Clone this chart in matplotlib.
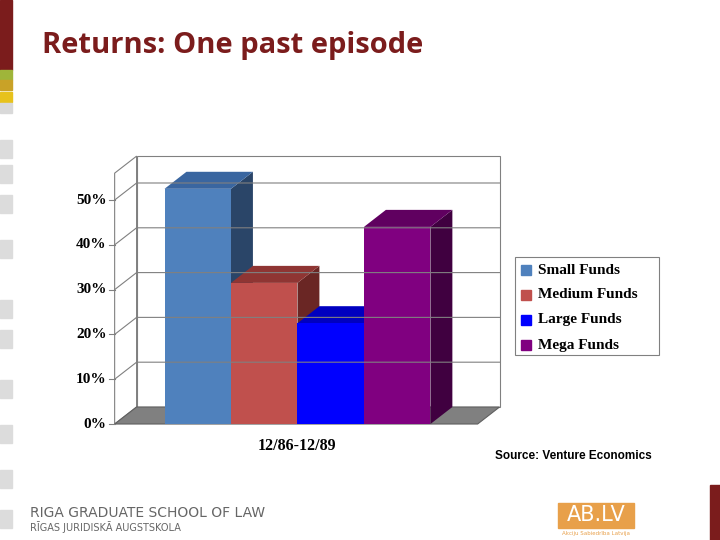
import matplotlib.pyplot as plt
from matplotlib.patches import Polygon, Rectangle

funds = ['Small Funds', 'Medium Funds', 'Large Funds', 'Mega Funds']
returns = [52.5, 31.5, 22.5, 44.0]
period = '12/86-12/89'
ticks = [0, 10, 20, 30, 40, 50]
front = ['#4f81bd', '#c0504d', '#0000ff', '#800080']
top = ['#3a66a0', '#8f3533', '#0000c0', '#600060']
side = ['#2a4568', '#6a2624', '#00008a', '#400040']

W, H = 720, 540
fig = plt.figure(figsize=(7.2, 5.4), dpi=100)
fig.patch.set_facecolor('white')

# slide decoration
deco = fig.add_axes([0, 0, 1, 1])
deco.set_xlim(0, W)
deco.set_ylim(H, 0)
deco.axis('off')
deco.add_patch(Rectangle((0, 0), 12, 70, color='#7b1c1c'))
for y0, c in [(70, '#9fb53a'), (80, '#c9a227'), (92, '#e7c21c'), (103, '#d9d9d9')]:
    deco.add_patch(Rectangle((0, y0), 12, 10, color=c))
for y0 in [140, 165, 195, 240, 300, 330, 380, 425, 470, 510]:
    deco.add_patch(Rectangle((0, y0), 12, 18, color='#dcdcdc'))
deco.add_patch(Rectangle((710, 485), 10, 55, color='#7b1c1c'))
deco.text(42, 45, 'Returns: One past episode', fontsize=21, color='#7b1c1c',
          family='Open Sans', fontweight='bold', va='center')
deco.text(30, 513, 'RIGA GRADUATE SCHOOL OF LAW', fontsize=10, color='#666666', va='center')
deco.text(30, 527, 'RĪGAS JURIDISKĀ AUGSTSKOLA', fontsize=7, color='#666666', va='center')
deco.add_patch(Rectangle((558, 503), 76, 25, color='#e8a04a'))
deco.text(596, 515, 'AB.LV', fontsize=15, color='white', ha='center', va='center')
deco.text(596, 533, 'Akciju Sabiedrība Latvija', fontsize=4, color='#e8a04a', ha='center', va='center')
deco.text(495, 456, 'Source: Venture Economics', fontsize=8.5, fontweight='bold',
          family='Liberation Sans', va='center')

# chart
ax = fig.add_axes([0.15, 0.2065, 0.554, 0.5102])
ax.set_xlim(-0.1, 5.9)
ax.set_ylim(-1, 60.5)
ax.axis('off')
dx, dy, ymax, xend = 0.33, 3.8, 56, 5.46

ax.add_patch(Polygon([(dx, dy), (xend + dx, dy), (xend + dx, ymax + dy), (dx, ymax + dy)],
                     fc='white', ec='#808080', lw=0.8))
ax.add_patch(Polygon([(0, 0), (dx, dy), (dx, ymax + dy), (0, ymax)],
                     fc='white', ec='#808080', lw=0.8))
ax.add_patch(Polygon([(0, 0), (xend, 0), (xend + dx, dy), (dx, dy)],
                     fc='#808080', ec='#606060', lw=0.8))
for t in ticks[1:]:
    ax.plot([0, dx, xend + dx], [t, t + dy, t + dy], color='#808080', lw=0.8)
for t in ticks:
    ax.plot([-0.08, 0], [t, t], color='#808080', lw=0.8)
    ax.text(-0.12, t, f'{t}%', ha='right', va='center', fontsize=11,
            family='Liberation Serif', fontweight='bold')

x0 = 0.75
for i, v in enumerate(returns):
    l, r = x0 + i, x0 + i + 1
    ax.add_patch(Polygon([(r, 0), (r + dx, dy), (r + dx, v + dy), (r, v)], fc=side[i], ec='none'))
    ax.add_patch(Polygon([(l, v), (r, v), (r + dx, v + dy), (l + dx, v + dy)], fc=top[i], ec='none'))
    ax.add_patch(Rectangle((l, 0), 1, v, fc=front[i], ec='none'))

ax.text(x0 + 2, -3.2, period, ha='center', va='top', fontsize=11.5,
        family='Liberation Serif', fontweight='bold')

# legend
deco.add_patch(Rectangle((515, 257), 144, 98, fc='white', ec='#808080', lw=0.8))
for i, name in enumerate(funds):
    yy = 270 + i * 25
    deco.add_patch(Rectangle((521, yy - 5), 10, 10, color=front[i]))
    deco.text(538, yy, name, fontsize=11, family='Liberation Serif',
              fontweight='bold', va='center')

fig.savefig('out.png', dpi=100)
